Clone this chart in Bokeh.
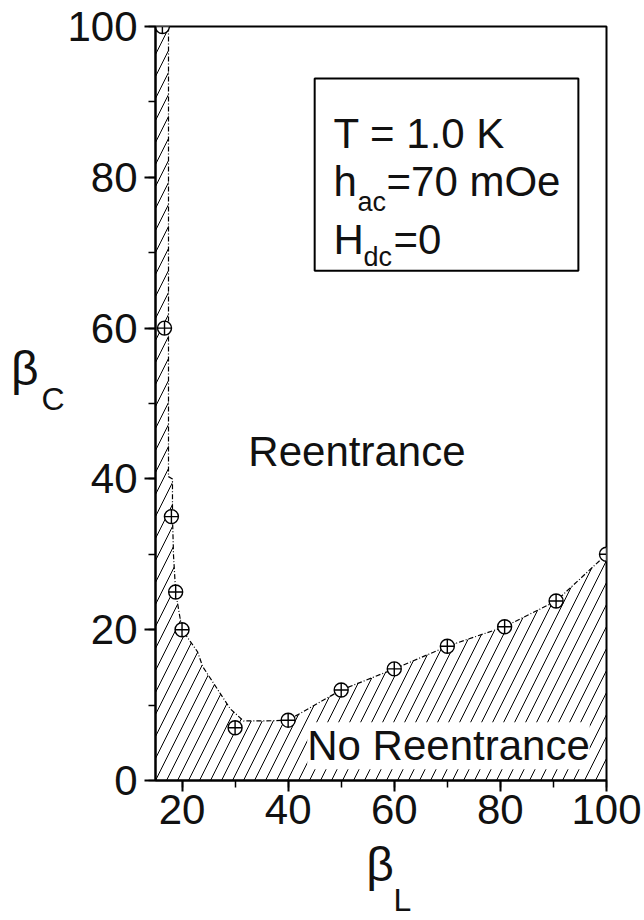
from bokeh.plotting import figure
from bokeh.models import (Range1d, SingleIntervalTicker, FixedTicker, Label,
                          BoxAnnotation, ColumnDataSource, LinearAxis)
from bokeh.embed import file_html
from bokeh.resources import INLINE

# ---- data ----
# measured points (beta_L, beta_C)
beta_L = [16.3, 16.7, 18.0, 18.8, 20.0, 30.0, 40.0, 50.0, 60.0, 70.0, 80.8, 90.5, 100.0]
beta_C = [100.0, 60.0, 35.0, 25.0, 20.0, 7.0, 8.0, 12.0, 14.8, 17.8, 20.4, 23.8, 30.0]

# guide line separating the two regions (dash-dot curve)
bound_L = [17.45, 17.45, 18.2, 18.2, 18.4, 18.8, 20.0, 22.9, 23.9, 29.1, 31.6, 35.7, 40.0, 50.0, 60.0, 70.0, 80.8, 90.5, 100.0]
bound_C = [100.0, 40.3, 40.0, 35.0, 29.8, 25.0, 20.0, 17.1, 15.1, 9.5, 7.9, 7.9, 8.0, 12.0, 14.8, 17.8, 20.4, 23.8, 30.0]

x_lo, x_hi = 15, 100
y_lo, y_hi = 0, 100
x_ticks_major = 20
y_ticks_major = 20

FONT = "Liberation Sans"

p = figure(width=644, height=920, title=None,
           x_range=Range1d(x_lo, x_hi), y_range=Range1d(y_lo, y_hi),
           output_backend="svg", toolbar_location=None,
           min_border_left=155, min_border_right=38,
           min_border_top=26, min_border_bottom=138)
p.background_fill_color = "white"
p.border_fill_color = "white"
p.xgrid.visible = False
p.ygrid.visible = False
p.outline_line_color = "black"
p.outline_line_width = 2
p.outline_line_alpha = 1

p.xaxis.ticker = SingleIntervalTicker(interval=x_ticks_major, num_minor_ticks=2)
p.yaxis.ticker = SingleIntervalTicker(interval=y_ticks_major, num_minor_ticks=2)
for ax in (p.xaxis[0], p.yaxis[0]):
    ax.axis_line_width = 2
    ax.axis_line_color = "black"
    ax.major_tick_out = 11
    ax.major_tick_in = 0
    ax.minor_tick_out = 7
    ax.minor_tick_in = 0
    ax.major_tick_line_width = 2
    ax.minor_tick_line_width = 1.5
    ax.major_tick_line_color = "black"
    ax.minor_tick_line_color = "black"
    ax.major_label_text_font = FONT
    ax.major_label_text_font_size = "42px"
    ax.major_label_text_color = "#111111"
p.xaxis.major_label_standoff = 3
p.yaxis.major_label_standoff = 7

# axis titles built from tick-less axes so they can sit outside the frame
def title_axis(side, pos, text, size, standoff):
    ax = LinearAxis(ticker=FixedTicker(ticks=[pos]),
                    major_label_overrides={pos: text},
                    axis_line_color=None, major_tick_line_color=None,
                    minor_tick_line_color=None, major_tick_out=0, major_tick_in=0,
                    minor_tick_out=0, minor_tick_in=0,
                    major_label_text_font=FONT, major_label_text_font_size=size,
                    major_label_text_color="#111111", major_label_standoff=standoff)
    p.add_layout(ax, side)

title_axis("left", 50.6, "C", "32px", 0)
title_axis("left", 54.6, "β", "48px", 0)
title_axis("below", 57.3, "β", "48px", 11)
title_axis("below", 61.55, "L", "32px", -12)

# hatched "No Reentrance" region below the boundary
poly_x = bound_L + [x_hi, x_lo, x_lo]
poly_y = bound_C + [y_lo, y_lo, y_hi]
p.patch(poly_x, poly_y, fill_alpha=0, line_color=None,
        hatch_pattern="/", hatch_scale=22, hatch_weight=1, hatch_color="black")

# boundary guide line
p.line(bound_L, bound_C, line_color="black", line_width=1.2, line_dash="5 2 1 2")

# data points
src = ColumnDataSource(dict(x=beta_L, y=beta_C))
p.scatter("x", "y", source=src, marker="circle_cross", size=14,
          fill_color="white", line_color="black", line_width=1.4)

def lab(x, y, t, size, **kw):
    opts = dict(text_baseline="alphabetic")
    opts.update(kw)
    p.add_layout(Label(x=x, y=y, text=t, text_font=FONT, text_font_size=size,
                       text_color="#111111", **opts))

# region labels
lab(32.5, 43.65, "Reentrance", "42px", text_baseline="middle")
lab(43.6, 4.6, "No Reentrance", "42px", text_baseline="middle",
    background_fill_color="white", padding=0)

# parameter box
p.add_layout(BoxAnnotation(left=45.0, right=94.7, bottom=67.6, top=93.1,
                           fill_alpha=0, line_color="black", line_alpha=1, line_width=2))
lab(48.55, 85.85, "T = 1.0 K", "42px")
lab(48.55, 79.4, "h", "42px")
lab(53.07, 76.7, "ac", "27px")
lab(58.54, 79.4, "=70 mOe", "42px")
lab(48.55, 71.7, "H", "42px")
lab(54.2, 69.4, "dc", "27px")
lab(59.85, 71.7, "=0", "42px")

open("out.html", "w").write(file_html(p, INLINE))
